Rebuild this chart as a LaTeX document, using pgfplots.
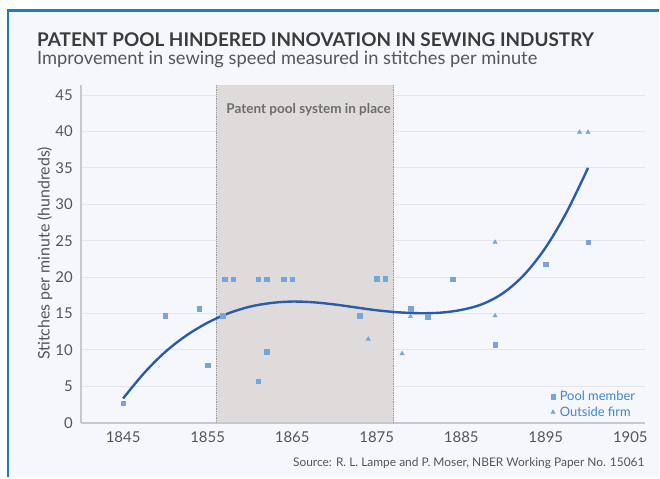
\documentclass[border=0pt]{standalone}
\usepackage{fontspec}
\setmainfont{Lato}
\usepackage{pgfplots}
\pgfplotsset{compat=1.18}
\definecolor{frameblue}{HTML}{1A7BC9}
\definecolor{bg}{HTML}{F5F7FC}
\definecolor{poolshade}{HTML}{DFDBDA}
\definecolor{markblue}{HTML}{76A5DD}
\definecolor{curveblue}{HTML}{2A5CAA}
\definecolor{titlegrey}{HTML}{3B3B3B}
\definecolor{textgrey}{HTML}{555555}
\definecolor{labelgrey}{HTML}{6E6B6B}
\definecolor{gridgrey}{HTML}{E3E5E9}
\definecolor{axisgrey}{HTML}{C6C8CC}
\definecolor{legblue}{HTML}{3F86D0}
\begin{document}
\begin{tikzpicture}[x=1bp,y=1bp]
\fill[white] (0,0) rectangle (660,-478);
\fill[bg] (7,-10) rectangle (660,-478);
\draw[frameblue, line width=2.7bp] (8,-478) -- (8,-10.7) -- (660,-10.7);
\node[anchor=base west, inner sep=0, font=\bfseries\fontsize{19}{19}\selectfont, text=titlegrey] at (37,-47) {PATENT POOL HINDERED INNOVATION IN SEWING INDUSTRY};
\node[anchor=base west, inner sep=0, font=\fontsize{18.4}{18.4}\selectfont, text=textgrey] at (37,-65) {Improvement in sewing speed measured in stitches per minute};
\node[anchor=base east, inner sep=0, font=\fontsize{12}{12}\selectfont, text=textgrey] at (646,-467) {Source: R. L. Lampe and P. Moser, NBER Working Paper No. 15061};
\node[rotate=90, inner sep=0, font=\fontsize{16}{16}\selectfont, text=textgrey] at (45,-254) {Stitches per minute (hundreds)};
\begin{axis}[
  at={(81bp,-423.7bp)}, anchor=south west, scale only axis,
  width=565bp, height=338.7bp,
  xmin=1840, xmax=1906.7, ymin=0, ymax=46.4,
  axis x line=bottom, axis y line=left,
  axis line style={draw=axisgrey, line width=1.6bp, -},
  xtick={1845,1855,...,1905}, ytick={0,5,...,45},
  major tick length=0pt, tick style={draw=none},
  ymajorgrids, grid style={gridgrey, line width=1bp},
  /pgf/number format/assume math mode=true,
  /pgf/number format/1000 sep={},
  tick label style={font=\fontsize{15}{15}\selectfont, text=textgrey},
  yticklabel style={anchor=east, inner sep=0pt, xshift=-8bp},
  xticklabel style={anchor=north, inner sep=0pt, yshift=-9bp},
  legend style={at={(0.986,0.01)}, anchor=south east, draw=none, fill=none,
    font=\fontsize{13}{13}\selectfont, text=legblue, inner sep=0pt, row sep=1.5bp,
    nodes={inner sep=1.5bp}},
  legend cell align=left,
  legend image code/.code={\draw[#1] plot coordinates {(0bp,0bp)};},
]
\addlegendimage{markblue, only marks, mark=square*, mark size=2.3bp, mark options={fill=markblue, draw=markblue}}
\addlegendentry{\hspace{3bp}Pool member}
\addlegendimage{markblue, only marks, mark=triangle*, mark size=2.5bp, mark options={fill=markblue, draw=markblue}}
\addlegendentry{\hspace{3bp}Outside firm}
\fill[poolshade] (axis cs:1856,0.12) rectangle (axis cs:1877,46.4);
\draw[gray!80, densely dotted, line width=0.8bp] (axis cs:1856,0) -- (axis cs:1856,46.4);
\draw[gray!80, densely dotted, line width=0.8bp] (axis cs:1877,0) -- (axis cs:1877,46.4);
\node[anchor=base west, inner sep=0, font=\bfseries\fontsize{13.6}{13.6}\selectfont, text=labelgrey] at (axis cs:1857.2,42.4) {Patent pool system in place};
\addplot[markblue, only marks, mark=square*, mark size=2.3bp, mark options={fill=markblue, draw=markblue}, forget plot] coordinates {
(1845,2.7) (1850,14.7) (1854,15.7) (1855,7.9) (1856.8,14.7) (1857,19.7) (1858,19.7)
(1861,19.7) (1861,5.7) (1862,19.7) (1862,9.8) (1864,19.7) (1865,19.7) (1873,14.7)
(1875,19.8) (1876,19.8) (1879,15.7) (1881,14.6) (1884,19.7) (1889,10.7) (1895,21.8) (1900,24.8)
};
\addplot[markblue, only marks, mark=triangle*, mark size=2.5bp, mark options={fill=markblue, draw=markblue}, forget plot] coordinates {
(1874,11.5) (1878,9.5) (1879,14.6) (1889,14.7) (1889,24.8) (1899,39.9) (1900,39.9)
};
\addplot[curveblue, line width=2.4bp, smooth, tension=0.55, forget plot] coordinates {
(1845,3.35) (1847.5,6.85) (1850,9.75) (1852.5,12.0) (1855,13.75) (1857.5,15.05)
(1860,15.95) (1862.5,16.45) (1865,16.65) (1867.5,16.55) (1870,16.25) (1872.5,15.85)
(1875,15.45) (1877.5,15.18) (1880,15.05) (1882.5,15.12) (1885,15.5) (1887.5,16.3)
(1890,17.85) (1892.5,20.4) (1895,24.1) (1897.5,29.0) (1900,35.0)
};
\end{axis}
\end{tikzpicture}
\end{document}
